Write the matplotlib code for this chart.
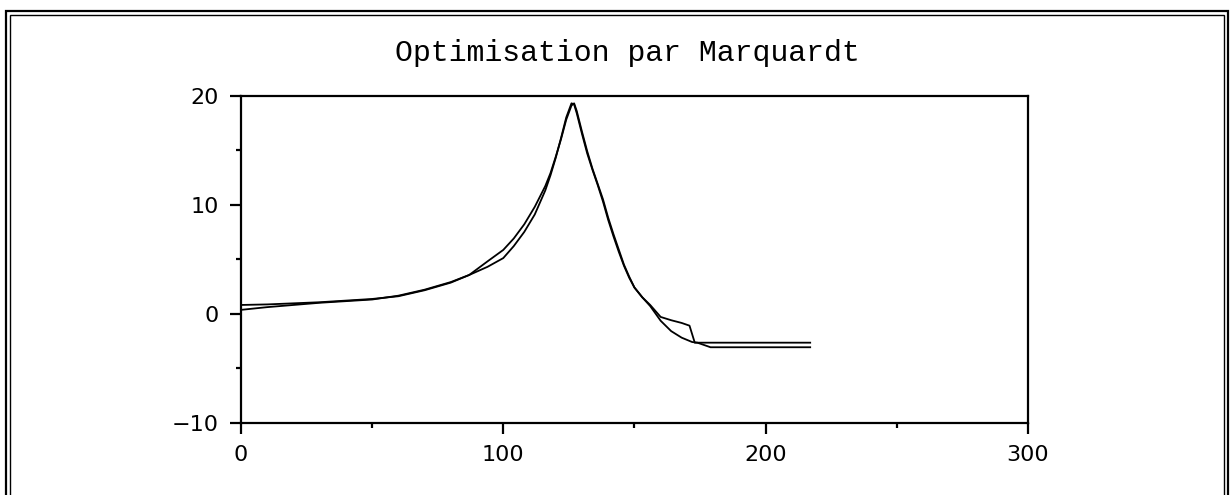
import matplotlib.pyplot as plt
from matplotlib.lines import Line2D

# Courbe mesurée (abscisse, valeur)
x_mesure = [0, 10, 20, 30, 40, 50, 60, 70, 80, 87, 94, 100, 104, 108, 112, 116, 118, 120,
            122, 124, 126, 127, 128, 130, 132, 134, 136, 138, 140, 142, 144, 146, 148,
            150, 153, 156, 160, 164, 168, 171, 173, 180, 217]
y_mesure = [0.35, 0.6, 0.8, 1.0, 1.15, 1.3, 1.65, 2.2, 2.9, 3.55, 4.3, 5.1, 6.2, 7.5, 9.1, 11.3, 12.7, 14.3,
            16.1, 18.0, 19.3, 19.2, 18.4, 16.5, 14.7, 13.2, 11.8, 10.3, 8.6, 7.1, 5.7, 4.4, 3.3,
            2.4, 1.5, 0.8, -0.3, -0.6, -0.85, -1.1, -2.66, -2.66, -2.66]

# Courbe ajustée par Marquardt
x_modele = [0, 10, 20, 30, 40, 50, 60, 70, 80, 87, 94, 100, 104, 108, 112, 116, 118, 120,
            122, 124, 126, 127, 128, 130, 132, 134, 136, 138, 140, 142, 144, 146, 148,
            150, 153, 156, 160, 164, 168, 172, 174, 179, 217]
y_modele = [0.8, 0.85, 0.95, 1.05, 1.2, 1.35, 1.6, 2.15, 2.85, 3.55, 4.8, 5.85, 6.9, 8.2, 9.8, 11.7, 12.9, 14.4,
            16.0, 17.8, 19.1, 19.3, 18.6, 16.7, 14.9, 13.3, 11.9, 10.5, 8.8, 7.3, 5.9, 4.5, 3.4,
            2.4, 1.5, 0.7, -0.65, -1.6, -2.2, -2.6, -2.66, -3.08, -3.08]

# Graduations
x_ticks = [0, 100, 200, 300]
x_minor = [50, 150, 250]
y_ticks = [-10, 0, 10, 20]
y_minor = [-5, 5, 15]

fig = plt.figure(figsize=(12.3, 4.95), dpi=100)
ax = fig.add_axes([0.1959, 0.1461, 0.6398, 0.6606])

ax.plot(x_mesure, y_mesure, color="black", linewidth=1.3)
ax.plot(x_modele, y_modele, color="black", linewidth=1.3)

ax.set_xlim(0, 300)
ax.set_ylim(-10, 20)
ax.set_xticks(x_ticks)
ax.set_xticks(x_minor, minor=True)
ax.set_yticks(y_ticks)
ax.set_yticks(y_minor, minor=True)

for spine in ax.spines.values():
    spine.set_linewidth(1.6)

ax.tick_params(which="major", direction="out", length=8, width=1.6,
               labelsize=16, pad=8)
ax.tick_params(which="minor", direction="out", length=3.5, width=1.6)

# Titre
fig.text(0.510, 0.893, "Optimisation par Marquardt", ha="center", va="center",
         fontsize=21.5, family="Liberation Mono")

# Double cadre autour de la figure (ouvert en bas)
W, H = 1230, 495
def cadre(gauche, droite, haut, lw):
    xs = [gauche / W, gauche / W, droite / W, droite / W]
    ys = [-0.05, 1 - haut / H, 1 - haut / H, -0.05]
    fig.add_artist(Line2D(xs, ys, transform=fig.transFigure, color="black",
                          linewidth=lw, solid_joinstyle="miter"))

cadre(5.5, 1228, 11, 1.6)
cadre(9.5, 1223.5, 14.5, 1.0)

plt.savefig("out.png", dpi=100)
